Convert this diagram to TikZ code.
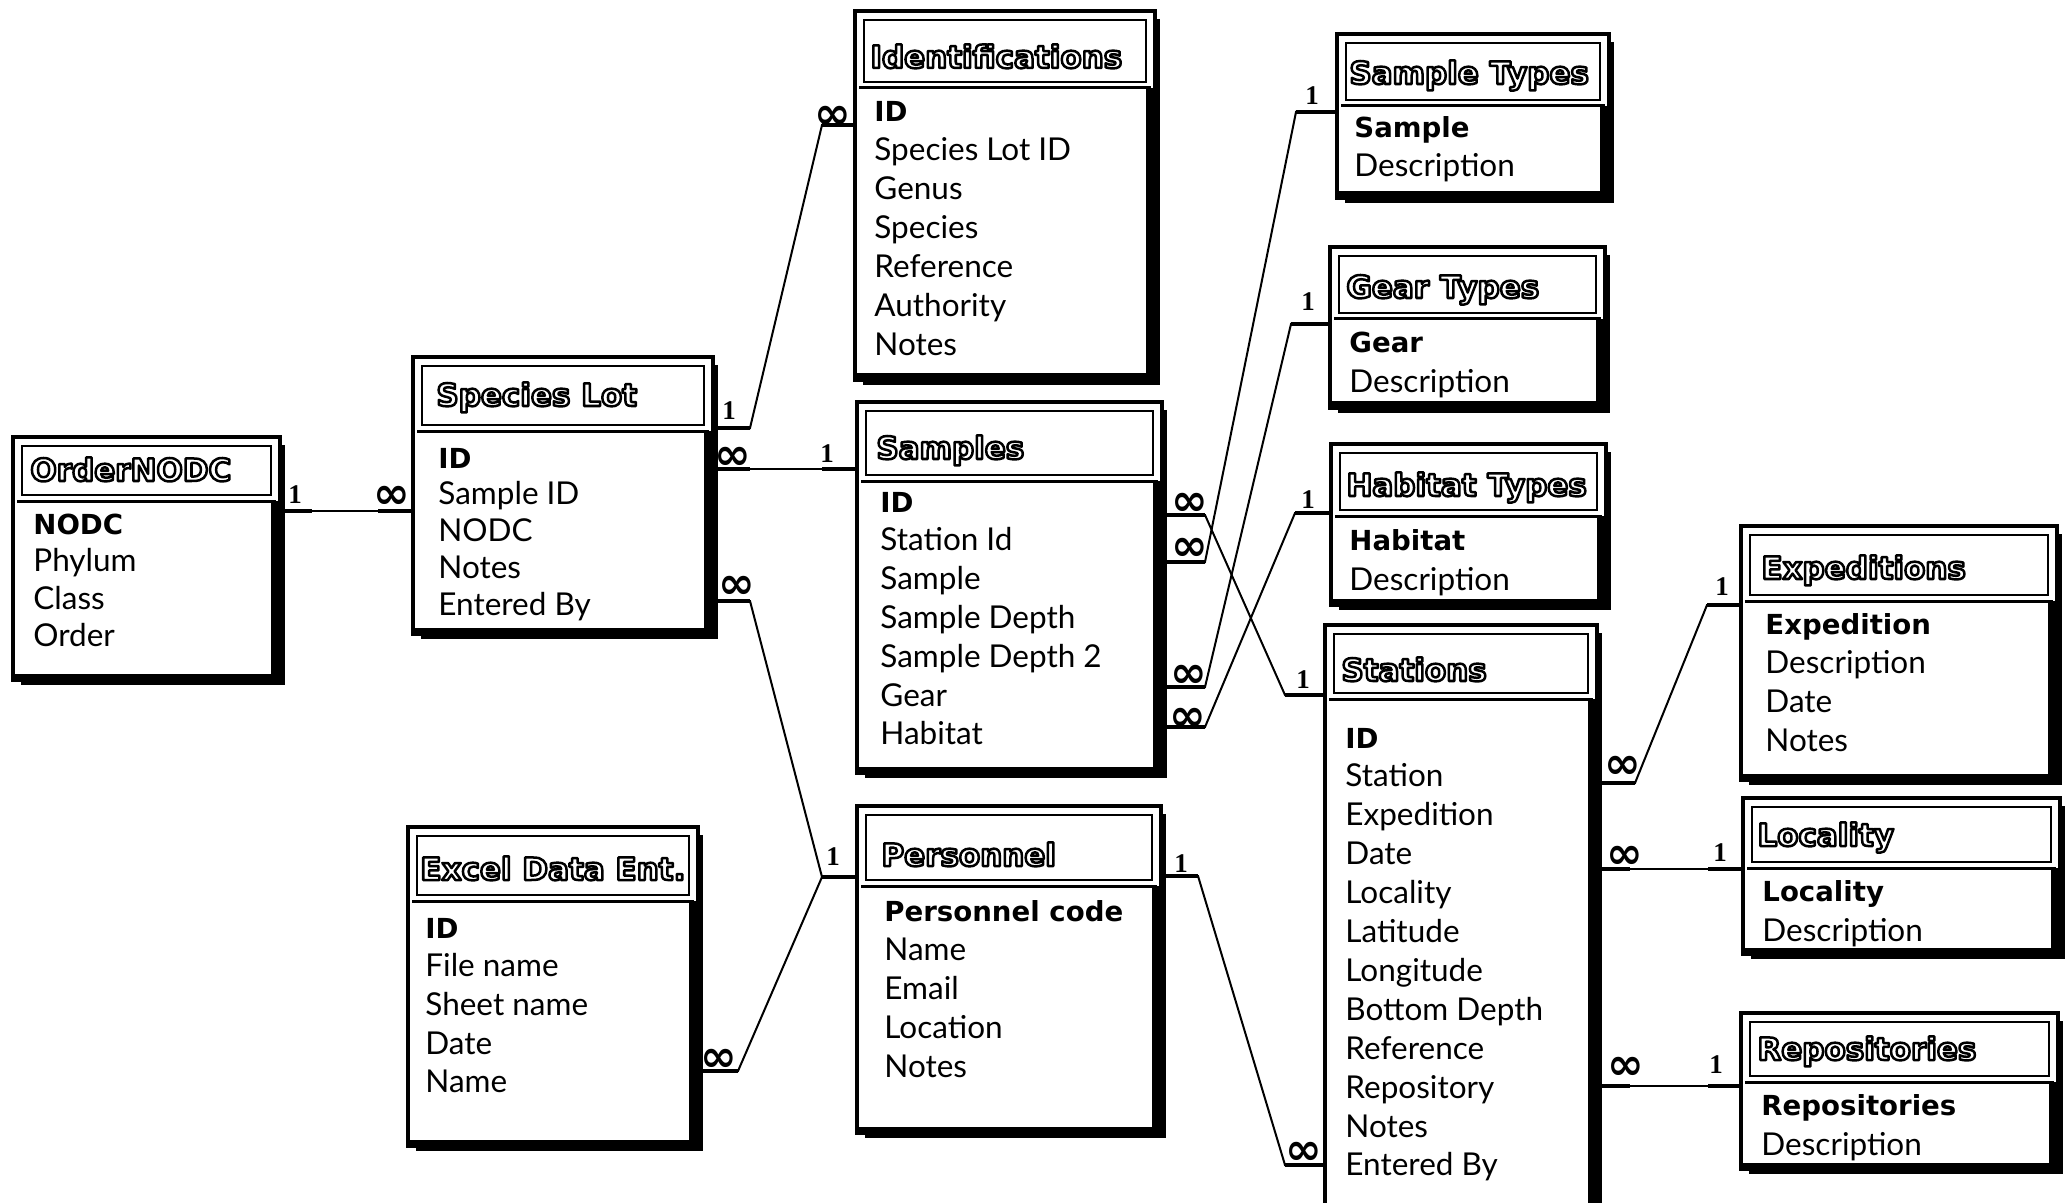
\documentclass[tikz,border=0pt]{standalone}
\usepackage{fontspec}
\setmainfont{Lato}
\newfontfamily\hdfont{DejaVu Sans}
\newfontfamily\numfont{Liberation Serif}
\usetikzlibrary{fit,calc}
\newcommand\outl[1]{\special{pdf:literal direct 1 g 0 G 2 Tr 1.25 w 1 j}#1\special{pdf:literal direct 0 Tr 0 g 0 G 0 j}}
\tikzset{
  frameline/.style={draw, line width=1.8pt, inner sep=0pt, outer sep=0pt},
  shadowline/.style={line width=2pt},
  titleline/.style={line width=1pt},
  scrollbar/.style={line width=4.5pt},
  bottombar/.style={line width=2.5pt},
  divider/.style={line width=1.5pt},
  ttl/.style={anchor=base west, inner sep=0pt, font=\hdfont\bfseries\fontsize{15.5}{18}\selectfont},
  fld/.style={anchor=base west, inner sep=0pt, font=\fontsize{15.75}{19}\selectfont},
  one/.style={font=\numfont\bfseries\fontsize{13.5}{14}\selectfont, inner sep=0pt},
  many/.style={font=\hdfont\bfseries\fontsize{22}{22}\selectfont, inner sep=0pt},
  conn/.style={line width=1pt},
  stub/.style={line width=2.2pt}
}
\newcommand\bfld[1]{{\hdfont\bfseries\fontsize{13.8}{16}\selectfont #1}}
% name, x1, y1, x2, y2, title bottom
\newcommand\tablebox[6]{%
  \node[frameline, fit={(#2,#3) (#4,#5)}] (#1) {};
  \draw[shadowline] (#4+3,#3+8) -- (#4+3,#5+3) -- (#2+8,#5+3);
  \draw[titleline] (#2+9,#3+9) rectangle (#4-9,#6);
  \draw[divider] (#2+4,#6+6) -- (#4-4,#6+6);
  \draw[scrollbar] (#4-5,#6+6) -- (#4-5,#5-1);
  \draw[bottombar] (#2+2,#5-4) -- (#4-2,#5-4);
}
% prefix, x, first centre y, spacing, list
\newcommand\fieldlist[5]{%
  \foreach \f [count=\i from 0] in {#5} {
    \node[fld] (#1-f\i) at (#2, #3+11+\i*#4) {\f};
  }
}
% from, y from, knee x1, knee x2, to, y to
\newcommand\link[6]{%
  \draw[conn] (#1.east |- 0,#2) -- (#3,#2) -- (#4,#6) -- (#5.west |- 0,#6);
  \draw[stub] (#1.east |- 0,#2) -- (#3,#2);
  \draw[stub] (#4,#6) -- (#5.west |- 0,#6);
}
\begin{document}
\begin{tikzpicture}[x=0.5pt,y=-0.5pt]
\useasboundingbox (0,0) rectangle (2071,1203);
\fill[white] (0,0) rectangle (2071,1203);

% tables
\tablebox{on}{13}{437}{280}{680}{495}
\node[ttl] (on-t) at (30,481) {\outl{OrderNODC}};
\fieldlist{on}{33}{523}{37.5}{\bfld{NODC},Phylum,Class,Order}

\tablebox{sl}{413}{357}{713}{634}{425}
\node[ttl] (sl-t) at (436,406) {\outl{Species Lot}};
\fieldlist{sl}{438}{457}{36.8}{\bfld{ID},Sample ID,NODC,Notes,Entered By}

\tablebox{id}{855}{11}{1155}{380}{82}
\node[ttl] (id-t) at (870,68) {\outl{Identifications}};
\fieldlist{id}{874}{111}{39}{\bfld{ID},Species Lot ID,Genus,Species,Reference,Authority,Notes}

\tablebox{sa}{857}{402}{1162}{773}{475}
\node[ttl] (sa-t) at (876,459) {\outl{Samples}};
\fieldlist{sa}{880}{501}{38.8}{\bfld{ID},Station Id,Sample,Sample Depth,Sample Depth 2,Gear,Habitat}

\tablebox{pe}{857}{806}{1161}{1133}{880}
\node[ttl] (pe-t) at (881,866) {\outl{Personnel}};
\fieldlist{pe}{884}{910}{39}{\bfld{Personnel code},Name,Email,Location,Notes}

\tablebox{ex}{408}{827}{698}{1146}{895}
\node[ttl] (ex-t) at (420,880) {\outl{Excel Data Ent.}};
\fieldlist{ex}{425}{927}{38.7}{\bfld{ID},File name,Sheet name,Date,Name}

\tablebox{sty}{1337}{34}{1609}{198}{100}
\node[ttl] (sty-t) at (1349,84) {\outl{Sample Types}};
\fieldlist{sty}{1354}{127}{39}{\bfld{Sample},Description}

\tablebox{gt}{1330}{247}{1605}{408}{313}
\node[ttl] (gt-t) at (1346,298) {\outl{Gear Types}};
\fieldlist{gt}{1349}{342}{40}{\bfld{Gear},Description}

\tablebox{ht}{1331}{444}{1606}{605}{510}
\node[ttl] (ht-t) at (1346,496) {\outl{Habitat Types}};
\fieldlist{ht}{1349}{539}{40}{\bfld{Habitat},Description}

\tablebox{st}{1325}{625}{1597}{1212}{693}
\node[ttl] (st-t) at (1341,681) {\outl{Stations}};
\fieldlist{st}{1345}{737}{38.9}{\bfld{ID},Station,Expedition,Date,Locality,Latitude,Longitude,Bottom Depth,Reference,Repository,Notes,Entered By}

\tablebox{xp}{1741}{526}{2057}{780}{595}
\node[ttl] (xp-t) at (1761,579) {\outl{Expeditions}};
\fieldlist{xp}{1765}{623}{39}{\bfld{Expedition},Description,Date,Notes}

\tablebox{lo}{1743}{798}{2060}{954}{862}
\node[ttl] (lo-t) at (1757,846) {\outl{Locality}};
\fieldlist{lo}{1762}{890}{40}{\bfld{Locality},Description}

\tablebox{re}{1741}{1013}{2058}{1169}{1076}
\node[ttl] (re-t) at (1757,1060) {\outl{Repositories}};
\fieldlist{re}{1761}{1104}{40}{\bfld{Repositories},Description}

% relationships
\link{on}{511}{312}{378}{sl}{511}
\link{sl}{428}{750}{822}{id}{125}
\link{sl}{469}{750}{822}{sa}{469}
\link{sl}{601}{750}{822}{pe}{877}
\link{ex}{1071}{738}{822}{pe}{877}
\link{sa}{515}{1205}{1285}{st}{695}
\link{sa}{562}{1205}{1296}{sty}{112}
\link{sa}{687}{1205}{1291}{gt}{324}
\link{sa}{727}{1205}{1295}{ht}{513}
\link{st}{783}{1635}{1707}{xp}{605}
\link{st}{869}{1630}{1708}{lo}{869}
\link{st}{1086}{1630}{1708}{re}{1086}
\link{pe}{876}{1198}{1285}{st}{1165}

% cardinality labels
\node[one]  (ca1) at (295,495) {1};
\node[many] (ca2) at (392,497) {∞};
\node[one]  (cb1) at (729,411) {1};
\node[many] (cb2) at (833,117) {∞};
\node[many] (cc1) at (733,458) {∞};
\node[one]  (cc2) at (827,454) {1};
\node[many] (cd1) at (737,587) {∞};
\node[one]  (cd2) at (833,857) {1};
\node[many] (ce1) at (719,1060) {∞};
\node[many] (cf1) at (1190,504) {∞};
\node[one]  (cf2) at (1303,680) {1};
\node[many] (cg1) at (1190,549) {∞};
\node[one]  (cg2) at (1312,96) {1};
\node[many] (ch1) at (1189,676) {∞};
\node[one]  (ch2) at (1308,302) {1};
\node[many] (ci1) at (1188,719) {∞};
\node[one]  (ci2) at (1308,500) {1};
\node[many] (cj1) at (1623,767) {∞};
\node[one]  (cj2) at (1722,587) {1};
\node[many] (ck1) at (1625,857) {∞};
\node[one]  (ck2) at (1720,853) {1};
\node[many] (cl1) at (1626,1068) {∞};
\node[one]  (cl2) at (1716,1065) {1};
\node[one]  (cm1) at (1181,864) {1};
\node[many] (cm2) at (1304,1153) {∞};
\end{tikzpicture}
\end{document}
